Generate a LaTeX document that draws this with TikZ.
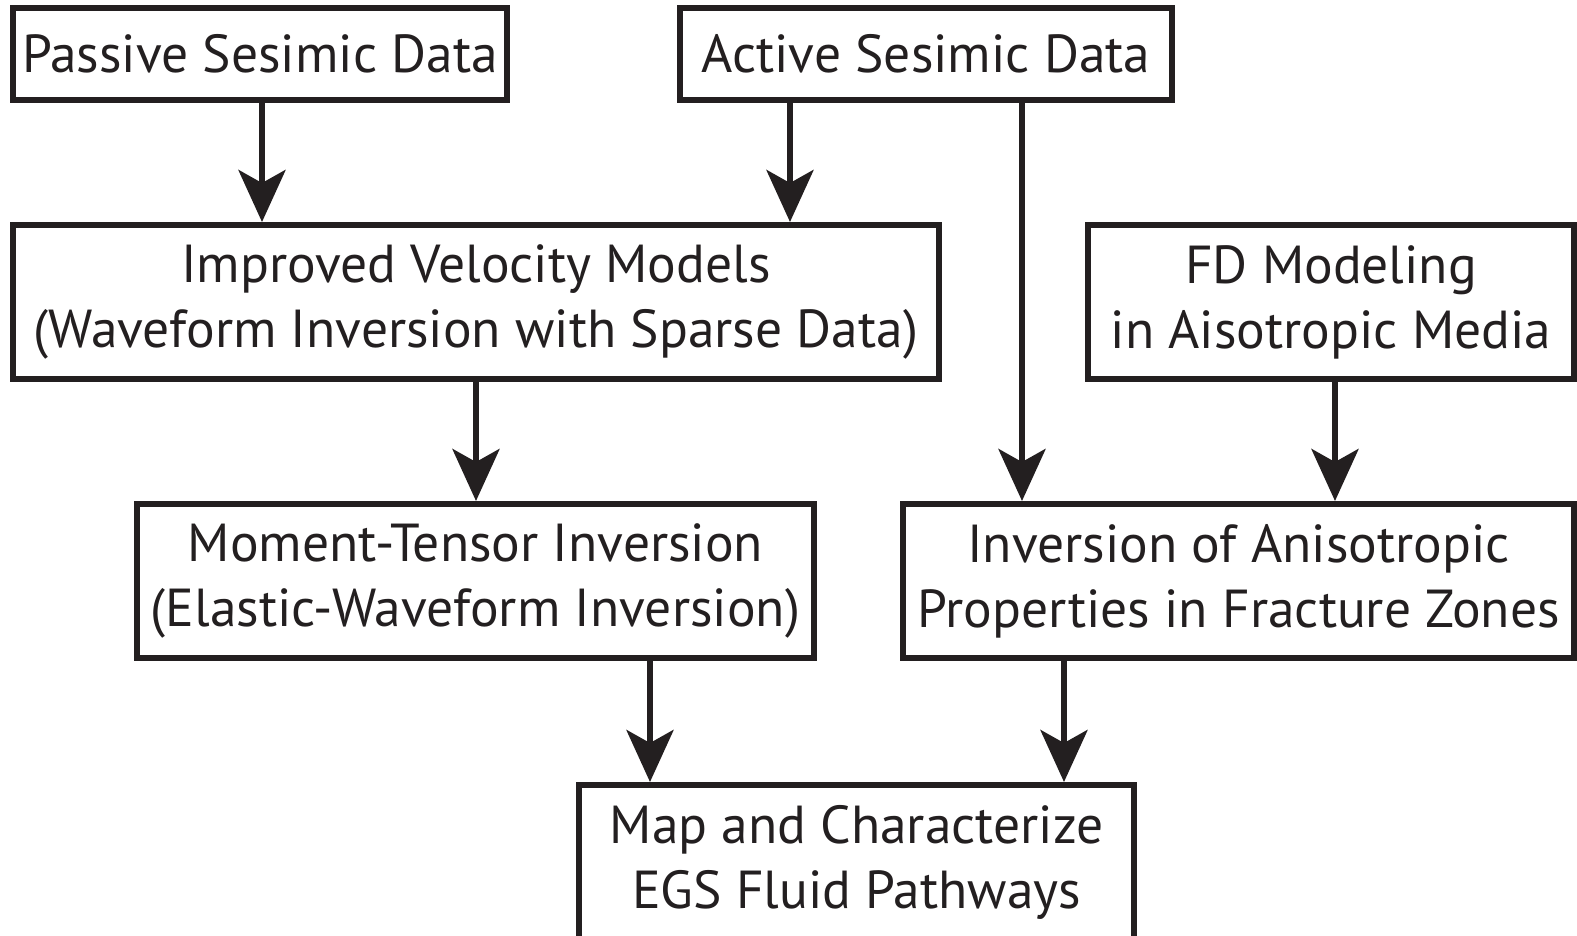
\documentclass[tikz,border=0pt]{standalone}
\usepackage{fontspec}
\setmainfont{PT Sans}
\usetikzlibrary{arrows.meta,calc}
\definecolor{ink}{RGB}{35,31,32}
\begin{document}
\begin{tikzpicture}[x=1pt,y=-1pt,
  box/.style={draw=ink,line width=6pt,fill=white,inner sep=0pt,outer sep=3pt,
    align=center,text=ink,font=\fontsize{53.5}{65}\selectfont},
  arr/.style={draw=ink,line width=6pt,-{Stealth[length=52pt,width=47pt,inset=13pt]}}]
\useasboundingbox (0,0) rectangle (1577,936);
\clip (0,0) rectangle (1577,936);
\node[box,minimum width=494pt,minimum height=92pt] (P) at (260,54) {Passive Sesimic Data};
\node[box,minimum width=492pt,minimum height=92pt] (A) at (926,54) {Active Sesimic Data};
\node[box,minimum width=926pt,minimum height=154pt] (I) at (476,302) {Improved Velocity Models\\(Waveform Inversion with Sparse Data)};
\node[box,minimum width=486pt,minimum height=154pt] (F) at (1331,302) {FD Modeling\\in Aisotropic Media};
\node[box,minimum width=677pt,minimum height=154pt] (M) at (475.5,581) {Moment-Tensor Inversion\\(Elastic-Waveform Inversion)};
\node[box,minimum width=671pt,minimum height=154pt] (V) at (1238.5,581) {Inversion of Anisotropic\\Properties in Fracture Zones};
\node[box,minimum width=555pt,minimum height=154pt] (G) at (856.5,862) {Map and Characterize\\EGS Fluid Pathways};
\draw[arr] (P.south -| 262,0) -- (I.north -| 262,0);
\draw[arr] (A.south -| 790,0) -- (I.north -| 790,0);
\draw[arr] (A.south -| 1022,0) -- (V.north -| 1022,0);
\draw[arr] (I.south -| 476,0) -- (M.north -| 476,0);
\draw[arr] (F.south -| 1335,0) -- (V.north -| 1335,0);
\draw[arr] (M.south -| 650,0) -- (G.north -| 650,0);
\draw[arr] (V.south -| 1064,0) -- (G.north -| 1064,0);
\end{tikzpicture}
\end{document}
